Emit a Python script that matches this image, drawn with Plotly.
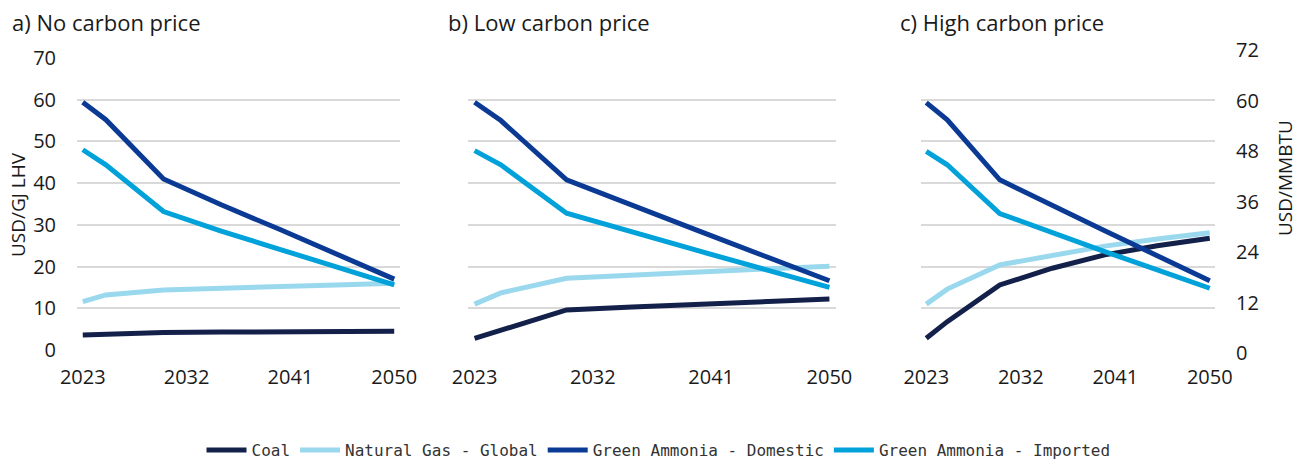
import plotly.graph_objects as go

# Years at which the cost trajectories are given
years = [2023, 2025, 2030, 2035, 2040, 2045, 2050]

# Delivered cost, USD/GJ LHV — a) No carbon price
a_coal = [3.6, 3.8, 4.2, 4.3, 4.4, 4.5, 4.5]
a_gas = [11.6, 13.2, 14.4, 14.9, 15.3, 15.6, 16.0]
a_dom = [59.4, 55.2, 41.0, 34.8, 29.0, 23.0, 17.0]
a_imp = [48.0, 44.4, 33.2, 28.5, 24.2, 19.8, 15.6]

# b) Low carbon price
b_coal = [2.8, 4.7, 9.6, 10.3, 11.0, 11.6, 12.2]
b_gas = [11.0, 13.7, 17.2, 18.0, 18.7, 19.4, 20.1]
b_dom = [59.4, 55.0, 40.8, 34.6, 28.6, 22.6, 16.6]
b_imp = [47.8, 44.4, 32.8, 28.2, 23.8, 19.4, 15.0]

# c) High carbon price
c_coal = [2.8, 6.8, 15.6, 19.6, 22.8, 25.0, 26.8]
c_gas = [11.0, 14.6, 20.4, 22.8, 24.9, 26.6, 28.1]
c_dom = [59.3, 55.2, 40.8, 34.6, 28.6, 22.6, 16.6]
c_imp = [47.6, 44.4, 32.7, 28.0, 23.6, 19.2, 14.8]

series_names = ["Coal", "Natural Gas - Global",
                "Green Ammonia - Domestic", "Green Ammonia - Imported"]
series_colors = ["#13214a", "#9ad8ee", "#0a3a94", "#00a2d9"]

panels = [
    ("a) No carbon price", [a_coal, a_gas, a_dom, a_imp]),
    ("b) Low carbon price", [b_coal, b_gas, b_dom, b_imp]),
    ("c) High carbon price", [c_coal, c_gas, c_dom, c_imp]),
]

x_ticks = [2023, 2032, 2041, 2050]
y_ticks = [0, 10, 20, 30, 40, 50, 60, 70]
mmbtu_ticks = [0, 12, 24, 36, 48, 60, 72]

W, H = 1304, 461
FONT = "Open Sans"
TXT = "#1a1a1a"
TICK_SIZE = 20

# plot-area pixel boxes (left, right) for the three panels
x_px = [(77, 400), (468, 836), (921, 1215)]
y_top, y_bot = 58, 350
title_x = [10, 446, 898]

fig = go.Figure()

for i, (title, data) in enumerate(panels):
    ax = "" if i == 0 else str(i + 1)
    for name, color, vals in zip(series_names, series_colors, data):
        fig.add_trace(go.Scatter(
            x=years, y=vals, mode="lines", name=name,
            line=dict(color=color, width=5),
            xaxis="x" + ax, yaxis="y" + ax,
            showlegend=(i == 0),
        ))
    l, r = x_px[i]
    fig.update_layout({
        "xaxis" + ax: dict(
            domain=[l / W, r / W], anchor="y" + ax, automargin=False,
            range=[2022.5, 2050.5], tickvals=x_ticks,
            showgrid=False, zeroline=False, showline=False,
            ticks="outside", ticklen=9, tickcolor="rgba(0,0,0,0)",
            tickfont=dict(family=FONT, size=TICK_SIZE, color=TXT),
        ),
        "yaxis" + ax: dict(
            domain=[1 - y_bot / H, 1 - y_top / H], anchor="x" + ax,
            automargin=False,
            range=[0, 70], tickvals=y_ticks,
            showticklabels=(i == 0),
            showgrid=True, gridcolor="#d9d9d9", gridwidth=2,
            zeroline=False, showline=False,
            ticks="outside" if i == 0 else "", ticklen=16,
            tickcolor="rgba(0,0,0,0)",
            tickfont=dict(family=FONT, size=TICK_SIZE, color=TXT),
        ),
    })
    fig.add_annotation(
        text=title, x=title_x[i] / W, y=1 - 22 / H,
        xref="paper", yref="paper", xanchor="left", yanchor="middle",
        showarrow=False, font=dict(family=FONT, size=22, color=TXT),
    )

# secondary scale in USD/MMBTU on the right of panel c
fig.add_trace(go.Scatter(
    x=[], y=[], xaxis="x3", yaxis="y4", mode="lines",
    showlegend=False, hoverinfo="skip",
))
fig.update_layout(yaxis4=dict(
    domain=[1 - 353 / H, 1 - 50 / H], anchor="x3", side="right",
    automargin=False,
    range=[0, 72], tickvals=mmbtu_ticks,
    showgrid=False, zeroline=False, showline=False,
    ticks="outside", ticklen=16, tickcolor="rgba(0,0,0,0)",
    tickfont=dict(family=FONT, size=TICK_SIZE, color=TXT),
))

fig.add_annotation(
    text="USD/GJ LHV", x=18 / W, y=1 - 205 / H, textangle=-90,
    xref="paper", yref="paper", xanchor="center", yanchor="middle",
    showarrow=False, font=dict(family=FONT, size=19, color=TXT),
)
fig.add_annotation(
    text="USD/MMBTU", x=1285 / W, y=1 - 178 / H, textangle=-90,
    xref="paper", yref="paper", xanchor="center", yanchor="middle",
    showarrow=False, font=dict(family=FONT, size=19, color=TXT),
)

fig.update_layout(
    width=W, height=H,
    margin=dict(l=0, r=0, t=0, b=0, autoexpand=False),
    paper_bgcolor="white", plot_bgcolor="rgba(0,0,0,0)",
    legend=dict(
        orientation="h", x=0.505, xanchor="center",
        y=1 - 450 / H, yanchor="middle",
        font=dict(family="DejaVu Sans Mono", size=16, color="#333333"),
        itemwidth=40, tracegroupgap=0,
    ),
)

fig.write_html("out.html")
